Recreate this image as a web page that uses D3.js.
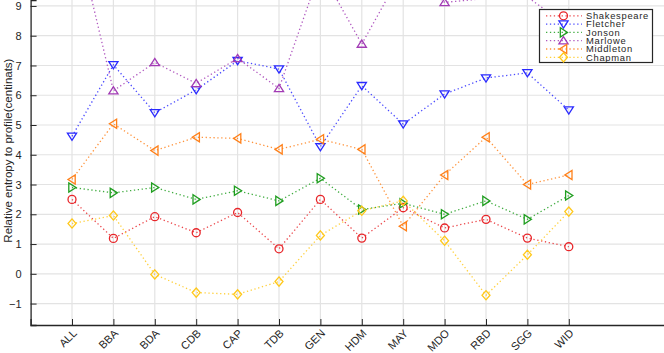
<!DOCTYPE html>
<html><head><meta charset="utf-8">
<script src="https://cdn.jsdelivr.net/npm/d3@7"></script>
<style>
html,body{margin:0;padding:0;background:#fff;overflow:hidden;}
svg{display:block;font-family:"Liberation Sans",Arial,Helvetica,sans-serif;}
</style></head>
<body>
<svg id="c" width="664" height="353"></svg>
<script>
const categories = ["ALL","BBA","BDA","CDB","CAP","TDB","GEN","HDM","MAY","MDO","RBD","SGG","WID"];
const yTicks = [-1,0,1,2,3,4,5,6,7,8,9];
const seriesNames = ["Shakespeare","Fletcher","Jonson","Marlowe","Middleton","Chapman"];
const shakespeare = [2.5,1.19,1.92,1.38,2.06,0.84,2.5,1.2,2.22,1.54,1.83,1.2,0.91];
const fletcher    = [4.62,7.02,5.41,6.18,7.16,6.88,4.27,6.32,5.03,6.04,6.58,6.75,5.5];
const jonson      = [2.9,2.72,2.9,2.5,2.79,2.45,3.21,2.16,2.37,2.0,2.45,1.83,2.63];
const marlowe     = [12.0,6.15,7.1,6.4,7.24,6.23,10.2,7.72,10.22,9.12,9.25,9.3,8.3];
const middleton   = [3.17,5.04,4.14,4.59,4.55,4.18,4.52,4.18,1.6,3.32,4.59,3.0,3.32];
const chapman     = [1.69,1.96,-0.02,-0.63,-0.69,-0.26,1.29,2.12,2.45,1.11,-0.72,0.64,2.09];

const seriesValues = [shakespeare,fletcher,jonson,marlowe,middleton,chapman];
const colors = ["#e8262a","#2a2aff","#1f9e1f","#a23bb5","#ff8019","#ffc81a"];
const markers = ["circle","tridown","triright","triup","trileft","diamond"];

const svg = d3.select("#c");
const yMin = -1.72, yMax = 9.2;
const x = d3.scaleLinear().domain([0,16]).range([30.6, 30.6+16*41.4]);
const y = d3.scaleLinear().domain([yMin,yMax]).range([325,0]);
const axisColor = "#262626";

svg.append("defs").append("clipPath").attr("id","plotclip")
  .append("rect").attr("x",x(0)).attr("y",y(yMax)).attr("width",x(16)-x(0)).attr("height",y(yMin)-y(yMax));

// grid
const g = svg.append("g");
g.selectAll("line.hg").data(yTicks).join("line")
  .attr("x1",x(0)).attr("x2",x(16)).attr("y1",d=>y(d)).attr("y2",d=>y(d))
  .attr("stroke","#e3e3e3").attr("stroke-width",1.2);
g.selectAll("line.vg").data(categories).join("line")
  .attr("x1",(d,i)=>x(i+1)).attr("x2",(d,i)=>x(i+1)).attr("y1",y(yMax)).attr("y2",y(yMin))
  .attr("stroke","#e3e3e3").attr("stroke-width",1.2);

// axes
const yAxis = d3.axisLeft(y).tickValues(yTicks).tickSize(-6).tickPadding(9);
const ya = svg.append("g").attr("transform",`translate(${x(0)},0)`).call(yAxis);
ya.select(".domain").attr("stroke",axisColor).attr("stroke-width",1.3);
ya.selectAll(".tick line").attr("stroke",axisColor);
ya.selectAll(".tick text").attr("fill",axisColor).style("font-size","11px");

const xAxis = d3.axisBottom(x).tickValues(d3.range(1,14)).tickSize(-6).tickFormat(d=>categories[d-1]);
const xa = svg.append("g").attr("transform",`translate(0,${y(yMin)})`).call(xAxis);
xa.select(".domain").attr("stroke",axisColor).attr("stroke-width",1.3);
xa.selectAll(".tick line").attr("stroke",axisColor);
xa.selectAll(".tick text").attr("fill",axisColor).style("font-size","11px")
  .attr("text-anchor","end").attr("dy",0).attr("y",0)
  .attr("transform","translate(5,9) rotate(-45)");

// y label
svg.append("text").attr("transform",`translate(12,150.6) rotate(-90)`)
  .attr("text-anchor","middle").attr("fill",axisColor).style("font-size","11.5px")
  .text("Relative entropy to profile(centinats)");

function markerPath(type){
  switch(type){
    case "circle": return d3.symbol(d3.symbolCircle, 50)();
    case "tridown": return "M-4.6,-3.2L4.6,-3.2L0,4Z";
    case "triup": return "M-4.6,3.2L4.6,3.2L0,-4Z";
    case "triright": return "M-3.2,-4.6L-3.2,4.6L4,0Z";
    case "trileft": return "M3.2,-4.6L3.2,4.6L-4,0Z";
    case "diamond": return "M0,-4.6L4,0L0,4.6L-4,0Z";
  }
}

const plot = svg.append("g").attr("clip-path","url(#plotclip)");
const line = d3.line().x((d,i)=>x(i+1)).y(d=>y(d));
seriesValues.forEach((vals,k)=>{
  plot.append("path").datum(vals).attr("d",line).attr("fill","none")
    .attr("stroke",colors[k]).attr("stroke-width",1.3).attr("stroke-dasharray","1.3,2.6")
    .attr("opacity",0.85);
});
seriesValues.forEach((vals,k)=>{
  const pts = vals.map((v,i)=>({v,i})).filter(p=>p.v<=yMax && p.v>=yMin);
  svg.append("g").selectAll("path").data(pts).join("path")
    .attr("transform",p=>`translate(${x(p.i+1)},${y(p.v)})`)
    .attr("d",markerPath(markers[k])).attr("fill","none")
    .attr("stroke",colors[k]).attr("stroke-width",1.3);
});

// legend
const lg = svg.append("g");
lg.append("rect").attr("x",539.5).attr("y",9.5).attr("width",113).attr("height",53)
  .attr("fill","#fff").attr("stroke",axisColor).attr("stroke-width",1.2);
const ly = d3.scaleLinear().domain([0,5]).range([15.8,57.3]);
seriesNames.forEach((name,k)=>{
  const yy = ly(k);
  lg.append("line").attr("x1",546).attr("x2",582).attr("y1",yy).attr("y2",yy)
    .attr("stroke",colors[k]).attr("stroke-width",1.3).attr("stroke-dasharray","1.3,2.6").attr("opacity",0.85);
  lg.append("path").attr("transform",`translate(563.5,${yy})`).attr("d",markerPath(markers[k]))
    .attr("fill","none").attr("stroke",colors[k]).attr("stroke-width",1.3);
  lg.append("text").attr("x",586).attr("y",yy).attr("dy","0.36em").attr("fill",axisColor)
    .style("font-size","9.4px").style("letter-spacing","0.7px").text(name);
});
</script>
</body></html>
